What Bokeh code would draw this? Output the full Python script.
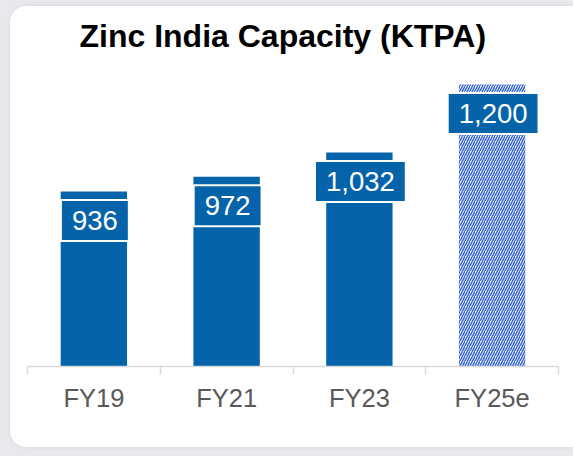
from bokeh.plotting import figure
from bokeh.models import ColumnDataSource, Range1d, FixedTicker, Column, Row, Spacer
from bokeh.core.properties import value
from bokeh.embed import file_html
from bokeh.resources import INLINE

# ---- data ----
categories = ["FY19", "FY21", "FY23", "FY25e"]
capacity = [936, 972, 1032, 1200]
value_labels = ["936", "972", "1,032", "1,200"]
estimated = [False, False, False, True]
chart_title = "Zinc India Capacity (KTPA)"

BLUE = "#0563a9"
HATCH = "#3566d0"
FONT = "Liberation Sans"

positions = list(range(len(categories)))

actual_src = ColumnDataSource(dict(
    x=[i for i, e in zip(positions, estimated) if not e],
    top=[v for v, e in zip(capacity, estimated) if not e],
))
est_src = ColumnDataSource(dict(
    x=[i for i, e in zip(positions, estimated) if e],
    top=[v for v, e in zip(capacity, estimated) if e],
))
label_src = ColumnDataSource(dict(x=positions, y=capacity, text=value_labels))

p = figure(
    width=563, height=441, output_backend="svg", toolbar_location=None,
    x_range=Range1d(-0.5, len(categories) - 0.5),
    y_range=Range1d(504, 1259),
    min_border_left=17, min_border_right=15, min_border_top=54, min_border_bottom=81,
    background_fill_color=None, border_fill_color=None,
)
p.title.text = chart_title
p.title.align = "left"
p.title.offset = 52
p.title.text_font = FONT
p.title.text_font_size = "32px"
p.title.text_font_style = "bold"
p.title.text_color = "black"
p.title.standoff = 13

p.vbar(x="x", top="top", bottom=0, width=0.5, source=actual_src,
       fill_color=BLUE, line_color=None)
p.vbar(x="x", top="top", bottom=0, width=0.5, source=est_src,
       fill_color="white", line_color=None,
       hatch_pattern="/", hatch_color=HATCH, hatch_scale=5, hatch_weight=1.5)

p.text(x="x", y="y", text="text", source=label_src,
       y_offset=29, x_offset=1,
       text_align="center", text_baseline="middle",
       text_color="white", text_font_size="27.5px", text_font=value(FONT),
       background_fill_color=BLUE, border_line_color="white", border_line_width=2,
       padding=(11, 11))

ax = p.xaxis[0]
ax.ticker = FixedTicker(ticks=positions,
                        minor_ticks=[i - 0.5 for i in range(len(categories) + 1)])
ax.major_label_overrides = {i: c for i, c in enumerate(categories)}
ax.major_tick_out = 0
ax.major_tick_in = 0
ax.minor_tick_out = 8
ax.minor_tick_in = 0
ax.minor_tick_line_color = "#d9d9d9"
ax.minor_tick_line_width = 1.5
ax.axis_line_color = "#d9d9d9"
ax.axis_line_width = 1.5
ax.major_label_text_font = FONT
ax.major_label_text_font_size = "25.5px"
ax.major_label_text_color = "#595959"
ax.major_label_standoff = 9

p.yaxis.visible = False
p.xgrid.visible = False
p.ygrid.visible = False
p.outline_line_color = None

p.styles = {"border-radius": "16px 0px 0px 16px", "overflow": "hidden",
            "background-color": "white", "box-shadow": "0 0 4px rgba(0,0,0,0.08)"}

root = Column(
    children=[
        Spacer(width=573, height=6),
        Row(children=[Spacer(width=10, height=441), p]),
        Spacer(width=573, height=9),
    ],
    styles={"background-color": "#e8e9ed"},
)

open("out.html", "w").write(file_html(root, INLINE))
